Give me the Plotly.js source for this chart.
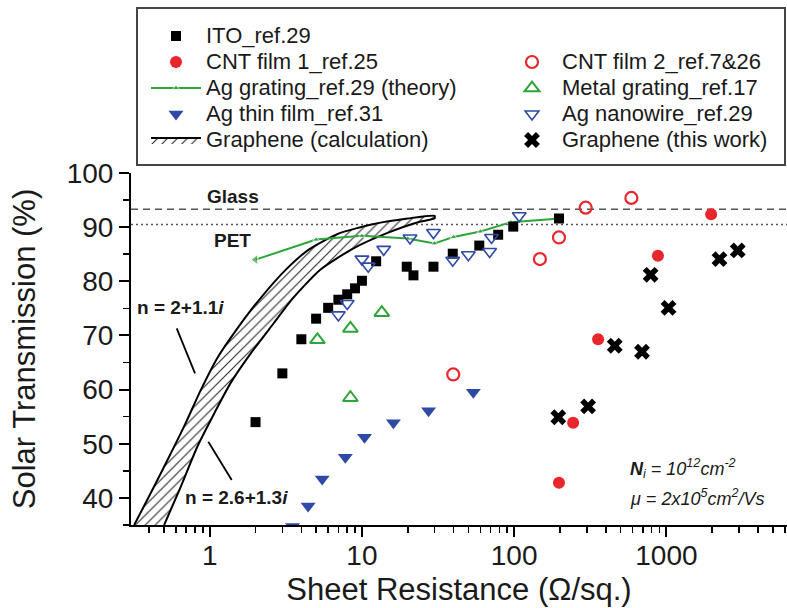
<!DOCTYPE html>
<html><head><meta charset="utf-8">
<script src="https://cdn.plot.ly/plotly-3.0.1.min.js"></script>
<style>html,body{margin:0;padding:0;background:#fff}</style>
</head><body><div id="chart" style="width:787px;height:608px"></div>
<script>
// ---- data ----
const itoX = [2, 3, 4, 5, 6, 7, 8, 9, 10, 12.4, 19.7, 21.8, 29.5, 39.5, 59, 78.5, 98.6, 197];
const itoY = [54, 63, 69.3, 73.1, 75.1, 76.6, 77.6, 78.7, 80.1, 83.7, 82.7, 81.1, 82.7, 85.1, 86.6, 88.6, 90.1, 91.6];
const cnt1X = [197, 244, 356, 880, 1968];
const cnt1Y = [42.8, 53.9, 69.3, 84.7, 92.4];
const cnt2X = [39.8, 147.6, 197, 295, 589];
const cnt2Y = [62.8, 84.1, 88.1, 93.6, 95.4];
const gratingX = [200, 95, 60, 40, 30, 20, 10, 5, 2];
const gratingY = [91.6, 90.9, 89.2, 88.2, 87.0, 87.9, 88.4, 87.7, 84.0];
const gratingSym = ['triangle-up','triangle-up','triangle-up','triangle-up','triangle-up','triangle-up','triangle-up','triangle-up','triangle-left'];
const gratingSize = [6, 6, 6, 6, 6, 6, 6, 6, 9];
const metalX = [5.1, 8.4, 8.4, 13.5];
const metalY = [69.2, 71.3, 58.5, 74.2];
const agFilmX = [3.5, 4.43, 5.48, 7.78, 10.4, 16.1, 27.4, 53.9];
const agFilmY = [34.7, 38.5, 43.5, 47.5, 51.2, 53.9, 56.1, 59.5];
const nanowireX = [7.0, 8.0, 10.0, 11.0, 13.9, 20.7, 29.5, 39.5, 50, 69, 71, 108];
const nanowireY = [73.8, 75.9, 84.1, 82.8, 85.9, 88.0, 89.0, 83.9, 84.9, 85.5, 88.1, 92.1];
const grapheneX = [195, 306, 458, 692, 788, 1033, 2233, 2944];
const grapheneY = [54.9, 56.9, 68.1, 67.0, 81.2, 75.1, 84.1, 85.7];
// calculation band: n = 2+1.1i (left edge) and n = 2.6+1.3i (right edge)
const calcAX = [0.319, 0.41, 0.528, 0.679, 0.873, 1.12, 1.52, 2.1, 3.2, 4.5, 7, 12, 20, 30];
const calcAY = [35, 40.9, 47.0, 53.2, 59.9, 65.8, 71.3, 76.5, 82.3, 85.9, 88.8, 90.6, 91.6, 92.1];
const calcBX = [0.502, 0.646, 0.83, 1.07, 1.37, 1.86, 2.64, 3.5, 5.3, 8.8, 14.6, 24, 30];
const calcBY = [35, 42.1, 49.5, 55.6, 61.2, 66.7, 72.3, 76.8, 82.1, 86.1, 88.9, 91.0, 91.6];
const glassT = 93.3, petT = 90.5;
const xTickVals = [1, 10, 100, 1000];
const xTickText = ['1', '10', '100', '1000'];
const yTickVals = [40, 50, 60, 70, 80, 90, 100];
const names = {
  ito: 'ITO_ref.29', cnt1: 'CNT film 1_ref.25', cnt2: 'CNT film 2_ref.7&26',
  grating: 'Ag grating_ref.29 (theory)', metal: 'Metal grating_ref.17',
  film: 'Ag thin film_ref.31', wire: 'Ag nanowire_ref.29',
  calc: 'Graphene (calculation)', gr: 'Graphene (this work)'
};

// minor tick positions on the log axis
const xMinor = [];
[0.1, 1, 10, 100, 1000].forEach(d => { for (let k = 2; k <= 9; k++) xMinor.push(k * d); });

// closed outline of the band: left edge up, right edge back down
const bandX = calcAX.concat(calcBX.slice().reverse());
const bandY = calcAY.concat(calcBY.slice().reverse());

const RED = '#e8262b', BLUE = '#2f49a6', GREEN = '#2ea43a';
const big = s => '<span style="font-size:22px">' + s.replace(/&/g, '&amp;') + '</span>';

const traces = [
  {x: bandX, y: bandY, type: 'scatter', mode: 'lines', fill: 'toself', fillcolor: 'white',
   fillpattern: {shape: '/', fgcolor: '#222', bgcolor: 'white', size: 7, solidity: 0.15},
   line: {color: '#000', width: 2, shape: 'spline', smoothing: 0.6}, name: big(names.calc), legend: 'legend', legendrank: 5},
  {x: gratingX, y: gratingY, type: 'scatter', mode: 'lines+markers', name: big(names.grating),
   line: {color: GREEN, width: 2}, marker: {symbol: gratingSym, size: gratingSize, color: GREEN},
   legend: 'legend', legendrank: 3},
  {x: itoX, y: itoY, type: 'scatter', mode: 'markers', name: big(names.ito),
   marker: {symbol: 'square', size: 10, color: '#000'}, legend: 'legend', legendrank: 1},
  {x: cnt1X, y: cnt1Y, type: 'scatter', mode: 'markers', name: big(names.cnt1),
   marker: {symbol: 'circle', size: 12, color: RED}, legend: 'legend', legendrank: 2},
  {x: agFilmX, y: agFilmY, type: 'scatter', mode: 'markers', name: big(names.film),
   marker: {symbol: 'triangle-down', size: 13, color: BLUE}, legend: 'legend', legendrank: 4},
  {x: cnt2X, y: cnt2Y, type: 'scatter', mode: 'markers', name: big(names.cnt2),
   marker: {symbol: 'circle-open', size: 12, color: RED, line: {width: 2.2, color: RED}}, legend: 'legend2', legendrank: 1},
  {x: metalX, y: metalY, type: 'scatter', mode: 'markers', name: big(names.metal),
   marker: {symbol: 'triangle-up-open', size: 13, color: GREEN, line: {width: 2, color: GREEN}}, legend: 'legend2', legendrank: 2},
  {x: nanowireX, y: nanowireY, type: 'scatter', mode: 'markers', name: big(names.wire),
   marker: {symbol: 'triangle-down-open', size: 12, color: BLUE, line: {width: 1.6, color: BLUE}}, legend: 'legend2', legendrank: 3},
  {x: grapheneX, y: grapheneY, type: 'scatter', mode: 'markers', name: big(names.gr),
   marker: {symbol: 'x', size: 14, color: '#000', line: {width: 0}}, legend: 'legend2', legendrank: 4}
];

const L = 131, R = 787, T = 173, B = 525;
const px = v => (v - L) / (R - L);
const py = v => (B - v) / (B - T);
const FONT = 'Liberation Sans, Arial, Helvetica, sans-serif';
const TXT = '#1a1a1a';
const legendCommon = {xanchor: 'left', yanchor: 'top', bgcolor: 'rgba(0,0,0,0)', borderwidth: 0,
  font: {size: 17.7, family: FONT, color: TXT}, traceorder: 'normal', tracegroupgap: 0, itemwidth: 50};

const ann = (x, y, text, size, extra) => Object.assign({xref: 'paper', yref: 'paper', x: px(x), y: py(y),
  xanchor: 'center', yanchor: 'middle', text: text, showarrow: false, font: {size: size, family: FONT, color: TXT}}, extra || {});

const layout = {
  width: 787, height: 608,
  margin: {l: L, r: 787 - R, t: T, b: 608 - B},
  paper_bgcolor: '#fff', plot_bgcolor: '#fff',
  font: {family: FONT, color: TXT},
  showlegend: true,
  legend: Object.assign({x: px(146), y: py(18)}, legendCommon),
  legend2: Object.assign({x: px(502), y: py(44)}, legendCommon),
  xaxis: {type: 'log', range: [Math.log10(0.304), Math.log10(6200)], tickmode: 'array',
          tickvals: xTickVals, ticktext: xTickText, ticks: 'outside', ticklen: 10, tickwidth: 2, tickcolor: '#000',
          ticklabelstandoff: -6,
          showline: true, linecolor: '#000', linewidth: 2, showgrid: false, zeroline: false,
          minor: {tickmode: 'array', tickvals: xMinor, ticks: 'outside', ticklen: 6, tickwidth: 1.5, tickcolor: '#000', showgrid: false},
          tickfont: {size: 28, family: FONT, color: TXT},
          title: {text: 'Sheet Resistance (Ω/sq.)', font: {size: 31, family: FONT, color: TXT}, standoff: 9},
          automargin: false},
  xaxis2: {type: 'log', overlaying: 'x', side: 'top', range: [Math.log10(0.304), Math.log10(6200)],
           tickmode: 'array', tickvals: xTickVals, ticks: 'inside', ticklen: 8, tickwidth: 2, tickcolor: '#000',
           showticklabels: false, showline: true, linecolor: '#000', linewidth: 2, showgrid: false, zeroline: false,
           minor: {tickmode: 'array', tickvals: xMinor, ticks: 'inside', ticklen: 5, tickwidth: 1.5, tickcolor: '#000', showgrid: false}},
  yaxis: {range: [35, 100], tickmode: 'array', tickvals: yTickVals, ticks: 'outside', ticklen: 10, tickwidth: 2,
          tickcolor: '#000', showline: true, linecolor: '#000', linewidth: 2, showgrid: false, zeroline: false,
          minor: {dtick: 5, tick0: 0, ticks: 'outside', ticklen: 6, tickwidth: 1.5, tickcolor: '#000', showgrid: false},
          tickfont: {size: 28, family: FONT, color: TXT},
          title: {text: 'Solar Transmission (%)', font: {size: 31, family: FONT, color: TXT}, standoff: 22},
          automargin: false},
  shapes: [
    {type: 'line', xref: 'paper', x0: 0, x1: 1, yref: 'y', y0: glassT, y1: glassT, layer: 'below',
     line: {color: '#555', width: 1.5, dash: '7px,5px'}},
    {type: 'line', xref: 'paper', x0: 0, x1: 1, yref: 'y', y0: petT, y1: petT, layer: 'below',
     line: {color: '#555', width: 1.5, dash: '2px,3px'}},
    {type: 'rect', xref: 'paper', yref: 'paper', x0: px(137), x1: px(785), y0: py(165), y1: py(8),
     line: {color: '#444', width: 2}},
    {type: 'line', xref: 'paper', yref: 'paper', x0: px(176.7), y0: py(328.3), x1: px(195), y1: py(373.3),
     line: {color: '#000', width: 1.8}},
    {type: 'line', xref: 'paper', yref: 'paper', x0: px(208.3), y0: py(441.7), x1: px(231.7), y1: py(480),
     line: {color: '#000', width: 1.8}}
  ],
  annotations: [
    ann(233, 196, '<b>Glass</b>', 19),
    ann(232, 240, '<b>PET</b>', 19),
    ann(180, 307, '<b>n = 2+1.1<i>i</i></b>', 19),
    ann(236, 497, '<b>n = 2.6+1.3<i>i</i></b>', 19),
    ann(628, 468, '<b><i>N</i></b><sub><i>i</i></sub><i> = 10<sup>12</sup>cm<sup>-2</sup></i>', 18, {xanchor: 'left'}),
    ann(628, 497, '<i>μ = 2x10<sup>5</sup>cm<sup>2</sup>/Vs</i>', 18, {xanchor: 'left'})
  ]
};

Plotly.newPlot('chart', traces, layout, {displayModeBar: false, staticPlot: true});
</script>
</body></html>
